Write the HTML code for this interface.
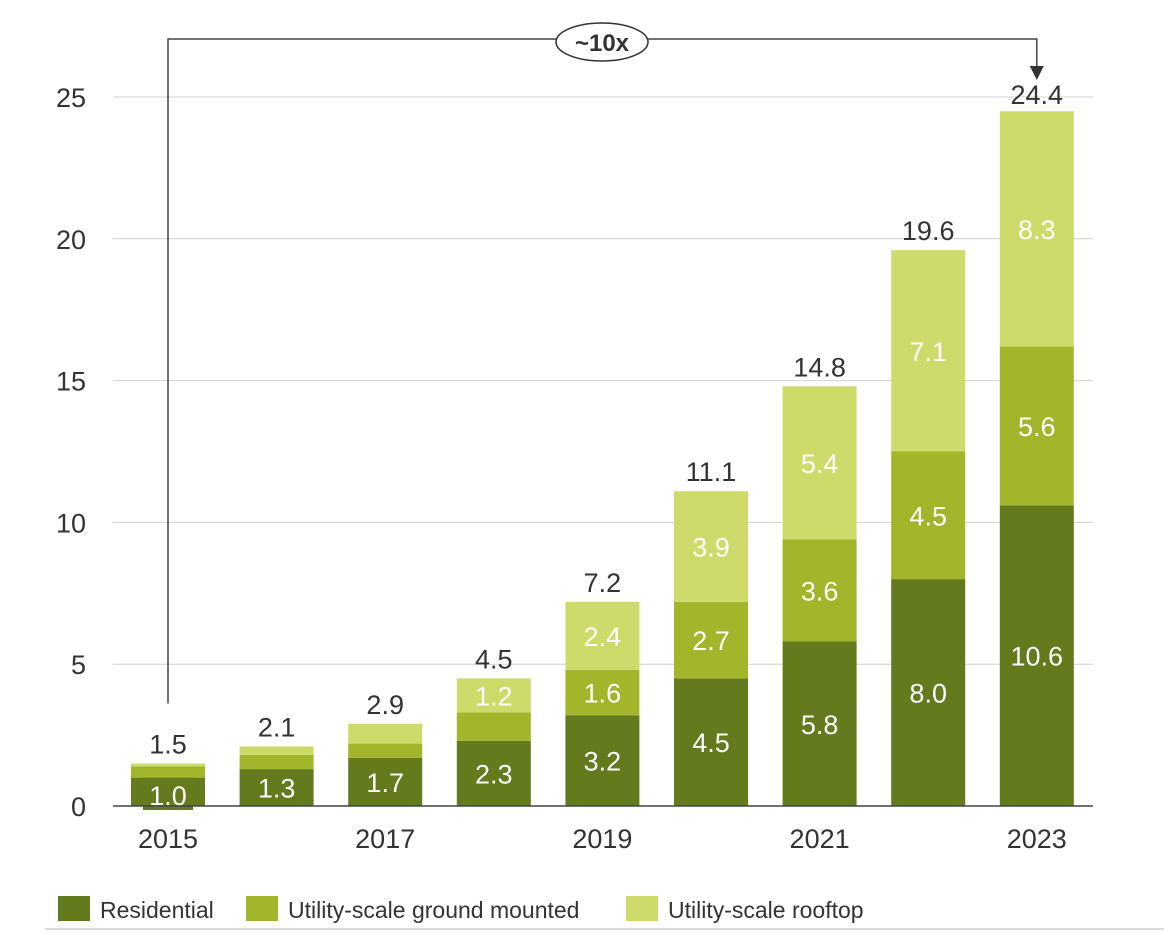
<!DOCTYPE html>
<html><head><meta charset="utf-8"><style>
body{margin:0;background:#fff;}
svg{display:block;font-family:"Liberation Sans",sans-serif;}
</style></head><body>
<svg id="c" width="1164" height="945"></svg>
<script>
const years=["2015","2016","2017","2018","2019","2020","2021","2022","2023"];
const residential=[1.0,1.3,1.7,2.3,3.2,4.5,5.8,8.0,10.6];
const ground=[0.4,0.5,0.5,1.0,1.6,2.7,3.6,4.5,5.6];
const rooftop=[0.1,0.3,0.7,1.2,2.4,3.9,5.4,7.1,8.3];
const totals=[1.5,2.1,2.9,4.5,7.2,11.1,14.8,19.6,24.4];
const yTicks=[0,5,10,15,20,25];
const xLabelYears=["2015","2017","2019","2021","2023"];
const NS="http://www.w3.org/2000/svg";
const svg=document.getElementById('c');
const y=v=>806-v*28.36;
const x=i=>168+i*108.6;
const BW=74;
function el(t,a,txt){const e=document.createElementNS(NS,t);for(const k in a)e.setAttribute(k,a[k]);if(txt!=null)e.textContent=txt;svg.appendChild(e);return e;}
yTicks.forEach(t=>{
  if(t>0){const g=el('line',{x1:113,x2:1093,y1:y(t),y2:y(t),stroke:'#d0d0d0','stroke-width':1});
  
  }
  const l=el('text',{x:86,y:y(t)+10,'text-anchor':'end','font-size':27,fill:'#333'},t);
  
  
});
const series=[[residential,'#637a1d','residential'],[ground,'#a3b52a','ground'],[rooftop,'#cedb6a','rooftop']];
years.forEach((yr,i)=>{
  let base=0;
  series.forEach(([arr,col,nm])=>{
    const v=arr[i];
    const r=el('rect',{x:x(i)-BW/2,y:y(base+v),width:BW,height:y(base)-y(base+v),fill:col});
    
    
    if(i===0&&nm==='residential'){
      const bg=el('rect',{x:x(i)-25,y:774,width:50,height:36,fill:col});
      
      
      const t=el('text',{x:x(i),y:805,'text-anchor':'middle','font-size':27,fill:'#fff'},v.toFixed(1));
      
      
    } else if(v>=1.15){
      const t=el('text',{x:x(i),y:(y(base)+y(base+v))/2+10,'text-anchor':'middle','font-size':27,fill:'#fff'},v.toFixed(1));
      
      
    }
    base+=v;
  });
  const tt=el('text',{x:x(i),y:y(totals[i])-10,'text-anchor':'middle','font-size':27,fill:'#333'},totals[i].toFixed(1));
  
  
  if(xLabelYears.includes(yr)){
    const xl=el('text',{x:x(i),y:848,'text-anchor':'middle','font-size':27,fill:'#333'},yr);
    
    
  }
});
const ax=el('line',{x1:113,x2:1093,y1:806,y2:806,stroke:'#444','stroke-width':1.5});


const br=el('path',{d:`M168 ${y(totals[0])-60} V39 H${x(8)} V70`,fill:'none',stroke:'#444','stroke-width':1.5});


const ar=el('path',{d:`M${x(8)-7} 66 L${x(8)+7} 66 L${x(8)} 80 Z`,fill:'#333'});


const ov=el('ellipse',{cx:602,cy:42,rx:46,ry:19,fill:'#fff',stroke:'#333','stroke-width':1.5});


const ot=el('text',{x:602,y:51,'text-anchor':'middle','font-size':24,'font-weight':'bold',fill:'#333'},'~10x');


const legend=[['Residential','#637a1d',58],['Utility-scale ground mounted','#a3b52a',246],['Utility-scale rooftop','#cedb6a',626]];
legend.forEach(([n,c,lx])=>{
  const s=el('rect',{x:lx,y:896,width:32,height:25,fill:c});
  
  
  const t=el('text',{x:lx+42,y:918,'font-size':23,fill:'#333'},n);
  
  
});
const bl=el('line',{x1:45,x2:1164,y1:929,y2:929,stroke:'#bbb','stroke-width':1});


</script>
</body></html>
